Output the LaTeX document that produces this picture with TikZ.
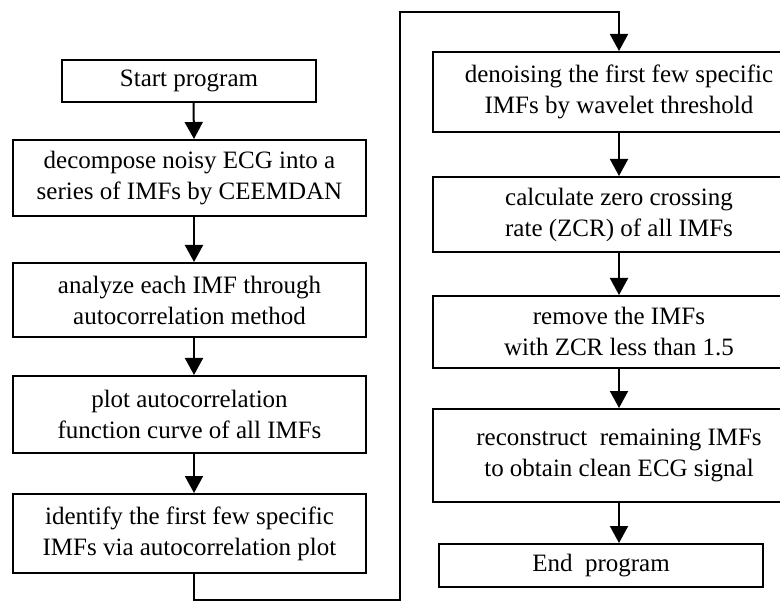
\documentclass[tikz,border=0pt]{standalone}
\usepackage{fontspec}
\setmainfont{Liberation Serif}
\usetikzlibrary{arrows.meta}

\begin{document}
\begin{tikzpicture}[x=0.5pt,y=-0.5pt,
    every node/.style={font=\fontsize{12.5pt}{15.5pt}\selectfont},
    stage/.style={draw,line width=1pt,align=center,inner sep=0pt},
    lcol/.style={stage,minimum width=176.5pt},
    rcol/.style={stage,minimum width=186pt},
    flow/.style={line width=1pt,-{Triangle[width=9pt,length=8.5pt]}}]
    \useasboundingbox (0,0) rectangle (780,603);
    \clip (0,0) rectangle (780,603);
    % left column
    \node[stage,minimum width=127pt,minimum height=21pt] (start) at (189,81) {Start program};
    \node[lcol,minimum height=38pt] (decomp) at (189.5,178)
        {decompose noisy ECG into a\\series of IMFs by CEEMDAN};
    \node[lcol,minimum height=37pt] (analyze) at (189.5,300)
        {analyze each IMF through\\autocorrelation method};
    \node[lcol,minimum height=38.5pt] (plot) at (189.5,414.5)
        {plot autocorrelation\\function curve of all IMFs};
    \node[lcol,minimum height=39.5pt] (identify) at (189.5,533.5)
        {identify the first few specific\\IMFs via autocorrelation plot};
    % right column
    \node[rcol,minimum height=40pt] (denoise) at (619,92)
        {denoising the first few specific\\IMFs by wavelet threshold};
    \node[rcol,minimum height=37.5pt] (zcr) at (619,214.5)
        {calculate zero crossing\\rate (ZCR) of all IMFs};
    \node[rcol,minimum height=36pt] (remove) at (619,332)
        {remove the IMFs\\with ZCR less than 1.5};
    \node[rcol,minimum height=46.5pt] (recon) at (619,455.5)
        {reconstruct\ \ remaining IMFs\\to obtain clean ECG signal};
    \node[stage,minimum width=162pt,minimum height=21.5pt] (end) at (601,565.5) {End\ \ program};
    \coordinate (loopB) at (400,600);
    \coordinate (loopT) at (400,12);

    \draw[flow] ([xshift=2.25pt]start.south) -- ([xshift=2.25pt]decomp.north);
    \draw[flow] ([xshift=2.25pt]decomp.south) -- ([xshift=2.25pt]analyze.north);
    \draw[flow] ([xshift=2.25pt]analyze.south) -- ([xshift=2.25pt]plot.north);
    \draw[flow] ([xshift=2.25pt]plot.south) -- ([xshift=2.25pt]identify.north);
    \draw[flow] ([xshift=2.25pt]identify.south) |- (loopB) -- (loopT) -| (denoise.north);
    \draw[flow] (denoise) -- (zcr);
    \draw[flow] (zcr) -- (remove);
    \draw[flow] (remove) -- (recon);
    \draw[flow] (recon.south) -- (recon.south |- end.north);
\end{tikzpicture}
\end{document}
